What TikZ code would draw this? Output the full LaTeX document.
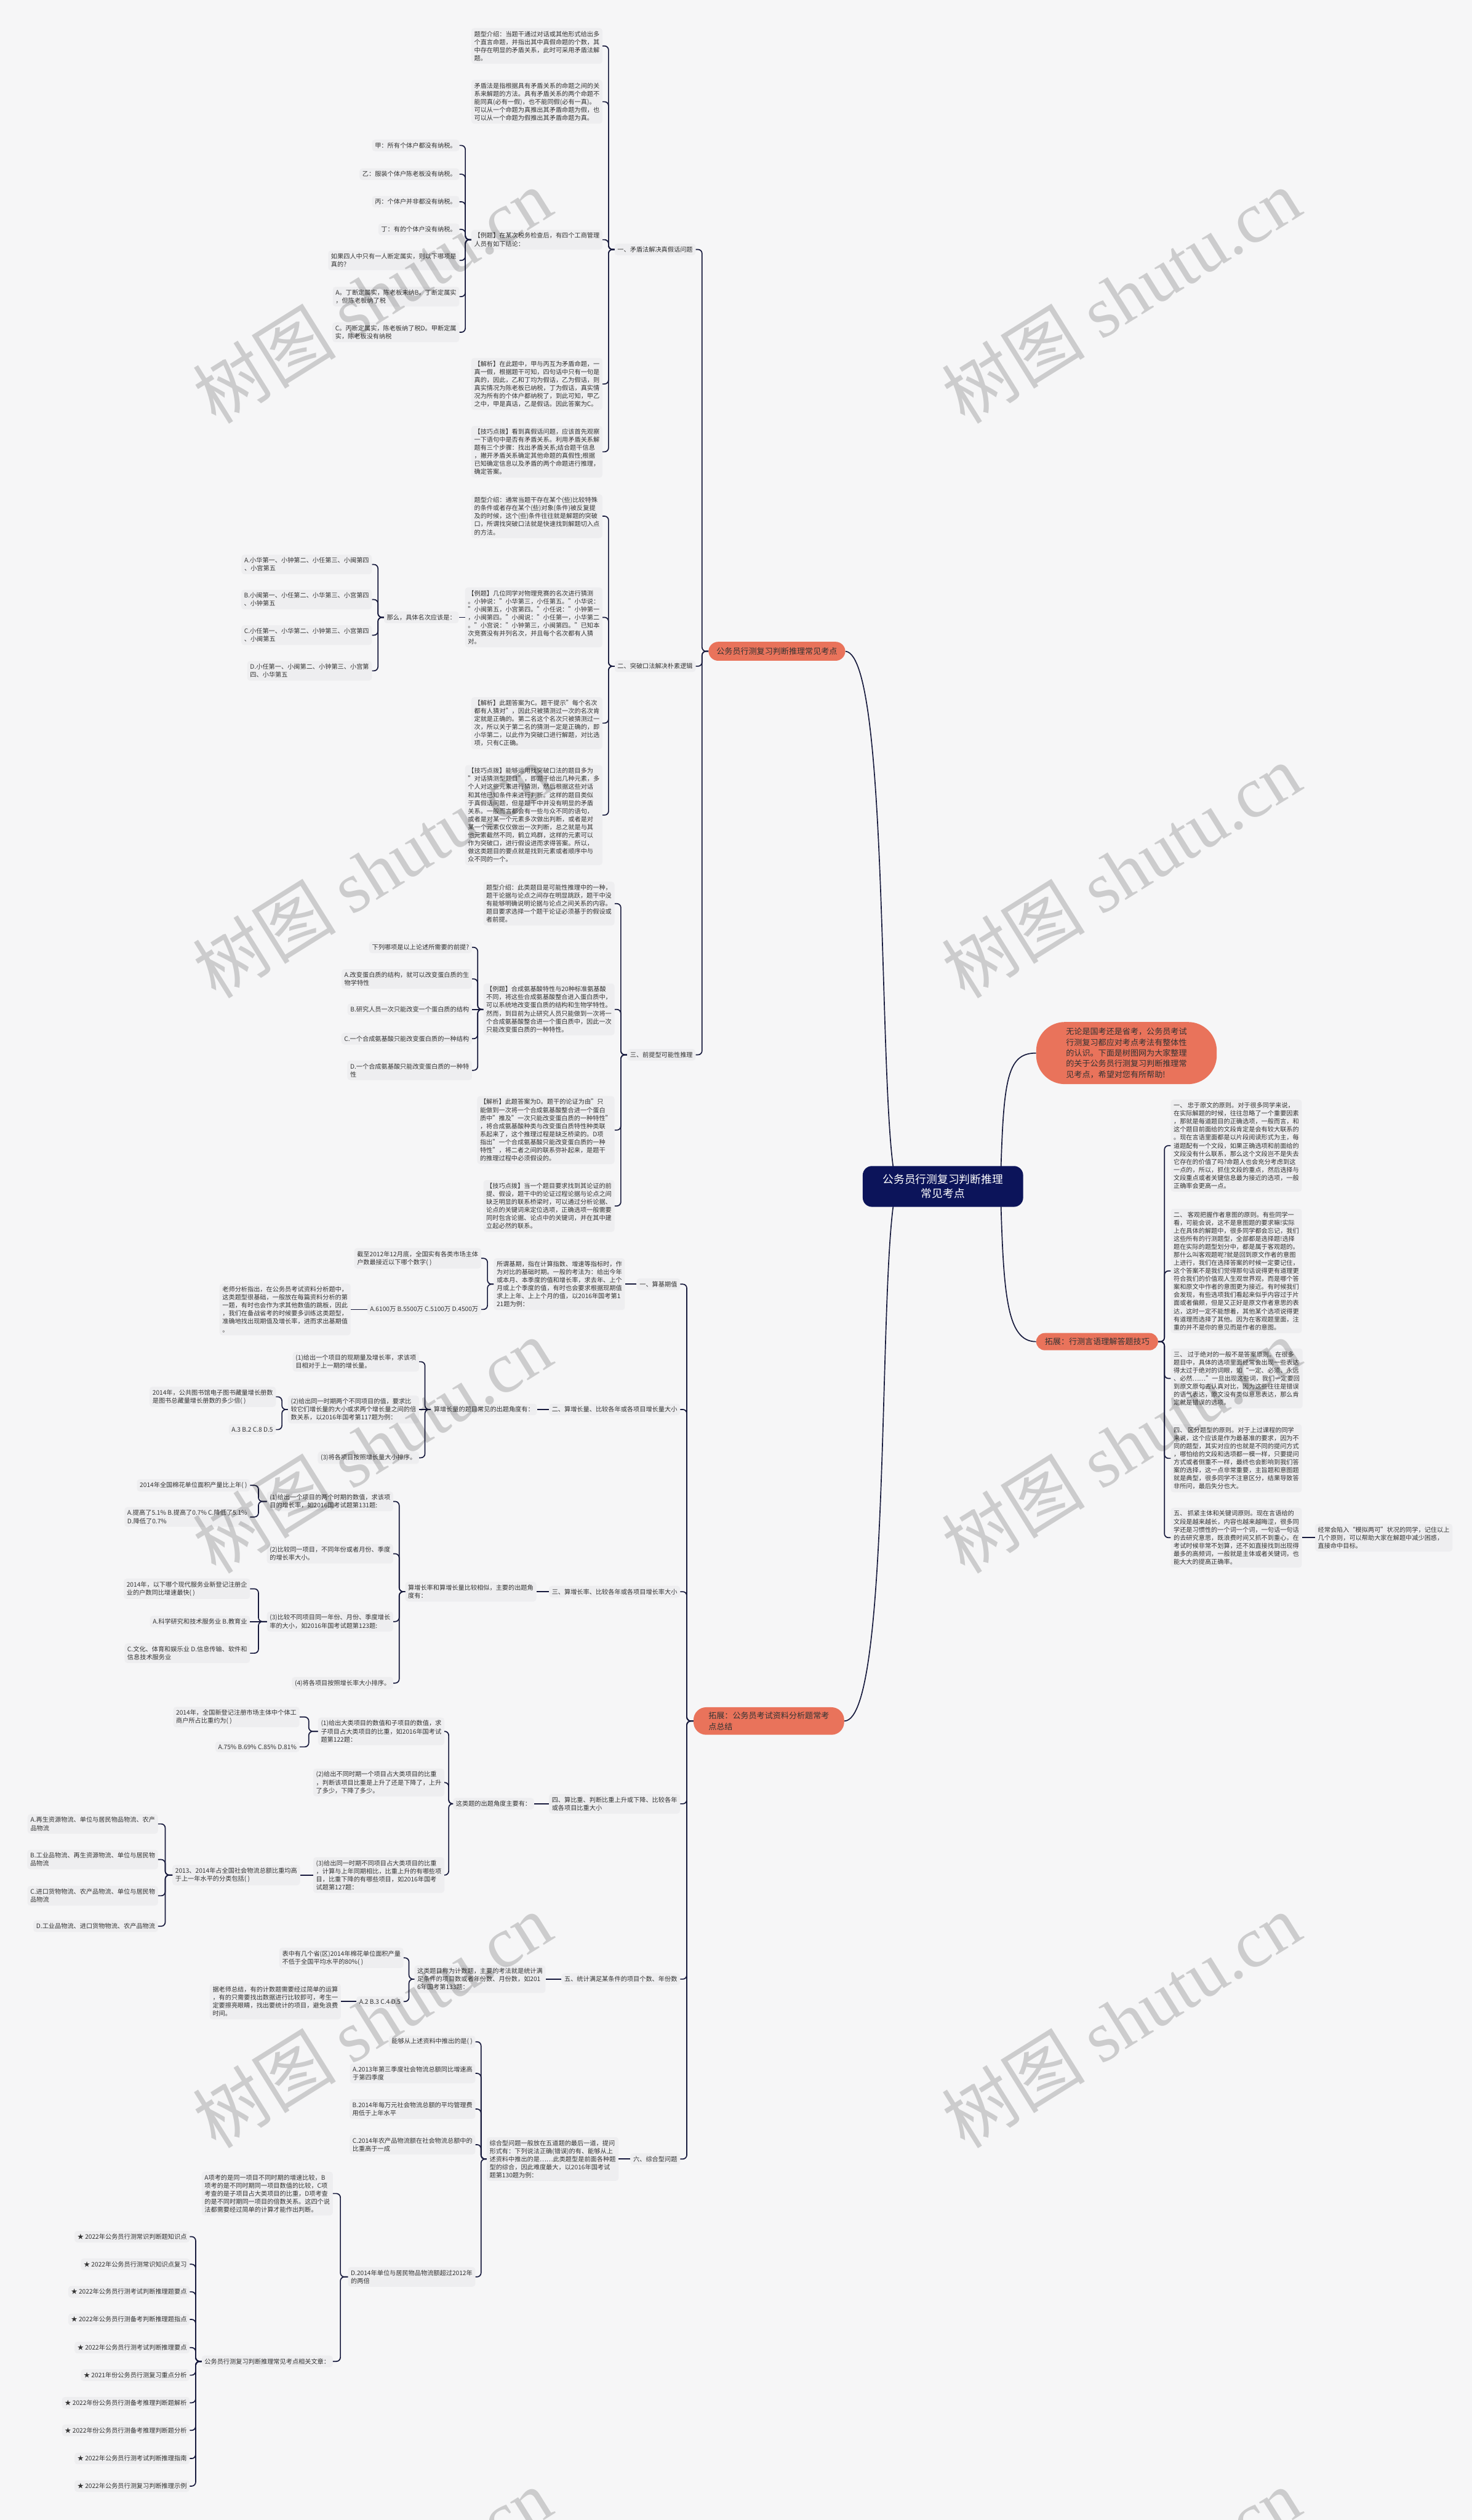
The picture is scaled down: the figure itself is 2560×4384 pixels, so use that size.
\documentclass[tikz,border=0pt]{standalone}
\usepackage{fontspec}
\setmainfont{Noto Sans CJK SC}
\newfontfamily\wmlatin{Liberation Serif}
\usetikzlibrary{calc,backgrounds}
\definecolor{bgc}{HTML}{F6F6F7}
\definecolor{nodefill}{HTML}{EEEEF0}
\definecolor{txt}{HTML}{333333}
\definecolor{linec}{HTML}{171A3D}
\definecolor{orng}{HTML}{E9735B}
\definecolor{navyc}{HTML}{0C145A}
\newcommand\fs{\fontsize{10.9pt}{14pt}\selectfont}
\newcommand\fo{\fontsize{14pt}{19pt}\selectfont}
\newcommand\conL[2]{\draw[conn] (#1.west) -- ($(#1.west)!0.5!(#1.west-|#2.east)$) |- (#2.east);}
\newcommand\conR[2]{\draw[conn] (#1.east) -- ($(#1.east)!0.5!(#1.east-|#2.west)$) |- (#2.west);}
\newcommand\conLs[2]{\draw[conn] (#1.west) -- (#2.east);}
\newcommand\conRs[2]{\draw[conn] (#1.east) -- (#2.west);}
\tikzset{
 box/.style={fill=nodefill, rounded corners=5pt, inner xsep=5pt, inner ysep=5pt, align=left, text=txt, font=\fs},
 lbox/.style={box, anchor=east},
 rbox/.style={box, anchor=west},
 conn/.style={draw=linec, line width=1.8pt, rounded corners=7pt},
 curve/.style={draw=linec, line width=1.8pt},
 pill/.style={fill=orng, text=txt, font=\fo, align=left, anchor=west},
 rootbox/.style={fill=navyc, text=white, align=center, font=\fontsize{19pt}{24pt}\selectfont, rounded corners=16pt, minimum width=279pt, minimum height=71pt},
 wm/.style={rotate=32, text=black, opacity=0.17, font=\fontsize{125pt}{125pt}\selectfont},
}
\begin{document}
\begin{tikzpicture}[x=1pt,y=-1pt]
\begin{pgfonlayer}{background}
\fill[bgc] (0,0) rectangle (2560,4384);
\end{pgfonlayer}
\useasboundingbox (0,0) rectangle (2560,4384);

% ---------- root and main branches ----------
\node[rootbox] (root) at (1640,2064) {公务员行测复习判断推理\\常见考点};
\node[pill, inner xsep=14pt, inner ysep=10pt, rounded corners=17pt] (o1) at (1232,1133) {公务员行测复习判断推理常见考点};
\node[pill, inner xsep=26pt, inner ysep=8pt, rounded corners=22pt] (o2) at (1206,2994) {拓展：公务员考试资料分析题常考\\点总结};
\node[pill, font=\fontsize{14pt}{18.7pt}\selectfont, inner xsep=52pt, inner ysep=10pt, rounded corners=50pt] (blob) at (1802,1832) {无论是国考还是省考，公务员考试\\行测复习都应对考点考法有整体性\\的认识。下面是树图网为大家整理\\的关于公务员行测复习判断推理常\\见考点，希望对您有所帮助!};
\node[pill, inner xsep=15pt, inner ysep=8.5pt, rounded corners=15pt] (tz) at (1802,2334) {拓展：行测言语理解答题技巧};

\begin{pgfonlayer}{background}
\draw[curve] (o1.east) .. controls (1550,1140) and (1525,1950) .. (1560,2064);
\draw[curve] (o2.east) .. controls (1553,2994) and (1525,2180) .. (1560,2064);
\draw[curve] (1740,2064) .. controls (1745,1880) and (1750,1832) .. (blob.west);
\draw[curve] (1740,2064) .. controls (1745,2250) and (1750,2334) .. (tz.west);
\end{pgfonlayer}

% ---------- branch 1 ----------
\node[lbox] (s1) at (1210,434) {一、矛盾法解决真假话问题};
\node[lbox] (s2) at (1210,1159) {二、突破口法解决朴素逻辑};
\node[lbox] (s3) at (1210,1835) {三、前提型可能性推理};

\node[lbox] (a1) at (1048,80) {题型介绍：当题干通过对话或其他形式给出多\\个直言命题，并指出其中真假命题的个数，其\\中存在明显的矛盾关系，此时可采用矛盾法解\\题。};
\node[lbox] (a2) at (1048,177) {矛盾法是指根据具有矛盾关系的命题之间的关\\系来解题的方法。具有矛盾关系的两个命题不\\能同真(必有一假)，也不能同假(必有一真)。\\可以从一个命题为真推出其矛盾命题为假，也\\可以从一个命题为假推出其矛盾命题为真。};
\node[lbox] (a3) at (1048,417) {【例题】在某次税务检查后，有四个工商管理\\人员有如下结论：};
\node[lbox] (a4) at (1048,668) {【解析】在此题中，甲与丙互为矛盾命题，一\\真一假，根据题干可知，四句话中只有一句是\\真的，因此，乙和丁均为假话，乙为假话，则\\真实情况为陈老板已纳税，丁为假话，真实情\\况为所有的个体户都纳税了，到此可知，甲乙\\之中，甲是真话，乙是假话。因此答案为C。};
\node[lbox] (a5) at (1048,786) {【技巧点拨】看到真假话问题，应该首先观察\\一下语句中是否有矛盾关系。利用矛盾关系解\\题有三个步骤：找出矛盾关系;结合题干信息\\，撇开矛盾关系确定其他命题的真假性;根据\\已知确定信息以及矛盾的两个命题进行推理，\\确定答案。};

\node[lbox] (e1) at (799,253) {甲：所有个体户都没有纳税。};
\node[lbox] (e2) at (799,303) {乙：服装个体户陈老板没有纳税。};
\node[lbox] (e3) at (799,351) {丙：个体户并非都没有纳税。};
\node[lbox] (e4) at (799,399) {丁：有的个体户没有纳税。};
\node[lbox] (e5) at (799,453) {如果四人中只有一人断定属实，则以下哪项是\\真的?};
\node[lbox] (e6) at (799,516) {A。丁断定属实，陈老板未纳B。丁断定属实\\，但陈老板纳了税};
\node[lbox] (e7) at (799,578) {C。丙断定属实，陈老板纳了税D。甲断定属\\实，陈老板没有纳税};

\node[lbox] (b1) at (1048,898) {题型介绍：通常当题干存在某个(些)比较特殊\\的条件或者存在某个(些)对象(条件)被反复提\\及的时候，这个(些)条件往往就是解题的突破\\口，所谓找突破口法就是快速找到解题切入点\\的方法。};
\node[lbox] (b2) at (1048,1074) {【例题】几位同学对物理竞赛的名次进行猜测\\。小钟说："小华第三，小任第五。"小华说：\\"小闽第五，小宫第四。"小任说："小钟第一\\，小闽第四。"小闽说："小任第一，小华第二\\。"小宫说："小钟第三，小闽第四。"已知本\\次竞赛没有并列名次，并且每个名次都有人猜\\对。};
\node[lbox] (b3) at (1048,1258) {【解析】此题答案为C。题干提示"每个名次\\都有人猜对"，因此只被猜测过一次的名次肯\\定就是正确的。第二名这个名次只被猜测过一\\次，所以关于第二名的猜测一定是正确的，即\\小华第二，以此作为突破口进行解题，对比选\\项，只有C正确。};
\node[lbox] (b4) at (1048,1418) {【技巧点拨】能够运用找突破口法的题目多为\\"对话猜测型题目"，即题干给出几种元素，多\\个人对这些元素进行猜测，然后根据这些对话\\和其他已知条件来进行判断。这样的题目类似\\于真假话问题，但是题干中并没有明显的矛盾\\关系。一般而言都会有一些与众不同的语句，\\或者是对某一个元素多次做出判断，或者是对\\某一个元素仅仅做出一次判断，总之就是与其\\他元素截然不同，鹤立鸡群，这样的元素可以\\作为突破口，进行假设进而求得答案。所以，\\做这类题目的要点就是找到元素或者顺序中与\\众不同的一个。};

\node[lbox] (f0) at (798,1074) {那么，具体名次应该是：};
\node[lbox] (f1) at (647,982) {A.小华第一、小钟第二、小任第三、小闽第四\\、小宫第五};
\node[lbox] (f2) at (647,1043) {B.小闽第一、小任第二、小华第三、小宫第四\\、小钟第五};
\node[lbox] (f3) at (647,1105) {C.小任第一、小华第二、小钟第三、小宫第四\\、小闽第五};
\node[lbox] (f4) at (647,1167) {D.小任第一、小闽第二、小钟第三、小宫第\\四、小华第五};

\node[lbox] (c1) at (1069,1572) {题型介绍：此类题目是可能性推理中的一种，\\题干论据与论点之间存在明显跳跃，题干中没\\有能够明确说明论据与论点之间关系的内容。\\题目要求选择一个题干论证必须基于的假设或\\者前提。};
\node[lbox] (c2) at (1069,1756) {【例题】合成氨基酸特性与20种标准氨基酸\\不同，将这些合成氨基酸整合进入蛋白质中，\\可以系统地改变蛋白质的结构和生物学特性。\\然而，到目前为止研究人员只能做到一次将一\\个合成氨基酸整合进一个蛋白质中，因此一次\\只能改变蛋白质的一种特性。};
\node[lbox] (c3) at (1069,1966) {【解析】此题答案为D。题干的论证为由"只\\能做到一次将一个合成氨基酸整合进一个蛋白\\质中"推及"一次只能改变蛋白质的一种特性"\\，将合成氨基酸种类与改变蛋白质特性种类联\\系起来了，这个推理过程是缺乏桥梁的。D项\\指出"一个合成氨基酸只能改变蛋白质的一种\\特性"，将二者之间的联系弥补起来，是题干\\的推理过程中必须假设的。};
\node[lbox] (c4) at (1069,2098) {【技巧点拨】当一个题目要求找到其论证的前\\提、假设，题干中的论证过程论据与论点之间\\缺乏明显的联系桥梁时，可以通过分析论据、\\论点的关键词来定位选项，正确选项一般需要\\同时包含论据、论点中的关键词，并在其中建\\立起必然的联系。};

\node[lbox] (g1) at (821,1648) {下列哪项是以上论述所需要的前提?};
\node[lbox] (g2) at (821,1703) {A.改变蛋白质的结构，就可以改变蛋白质的生\\物学特性};
\node[lbox] (g3) at (821,1756) {B.研究人员一次只能改变一个蛋白质的结构};
\node[lbox] (g4) at (821,1807) {C.一个合成氨基酸只能改变蛋白质的一种结构};
\node[lbox] (g5) at (821,1862) {D.一个合成氨基酸只能改变蛋白质的一种特\\性};

% ---------- right branch ----------
\node[rbox] (r1) at (2036,1993) {一、 忠于原文的原则。对于很多同学来说，\\在实际解题的时候，往往忽略了一个重要因素\\，那就是每道题目的正确选项，一般而言，和\\这个题目前面给的文段肯定是会有较大联系的\\。现在言语里面都是以片段阅读形式为主，每\\道题配有一个文段，如果正确选项和前面给的\\文段没有什么联系，那么这个文段岂不是失去\\它存在的价值了吗?命题人也会充分考虑到这\\一点的，所以，抓住文段的重点，然后选择与\\文段重点或者关键信息最为接近的选项，一般\\正确率会更高一点。};
\node[rbox] (r2) at (2036,2211) {二、 客观把握作者意图的原则。有些同学一\\看，可能会说，这不是意图题的要求嘛!实际\\上在具体的解题中，很多同学都会忘记，我们\\这些所有的行测题型，全部都是选择题!选择\\题在实际的题型划分中，都是属于客观题的。\\那什么叫客观题呢?就是回到原文作者的意图\\上进行，我们在选择答案的时候一定要记住，\\这个答案不是我们觉得那句话说得更有道理更\\符合我们的价值观人生观世界观，而是哪个答\\案和原文中作者的意图更为接近。有时候我们\\会发现，有些选项我们看起来似乎内容过于片\\面或者偏颇，但是又正好是原文作者意思的表\\达，这时一定不能想着，其他某个选项说得更\\有道理而选择了其他。因为在客观题里面，注\\重的并不是你的意见而是作者的意图。};
\node[rbox] (r3) at (2036,2398) {三、 过于绝对的一般不是答案原则。在很多\\题目中，具体的选项里面经常会出现一些表达\\得太过于绝对的词眼，如“一定、必须、永远\\、必然……”一旦出现这些词，我们一定要回\\到原文原句去认真对比，因为这些往往是错误\\的语气表达，原文没有类似意思表达，那么肯\\定就是错误的选项。};
\node[rbox] (r4) at (2036,2537) {四、 区分题型的原则。对于上过课程的同学\\来说，这个应该是作为最基准的要求，因为不\\同的题型，其实对应的也就是不同的提问方式\\，哪怕给的文段和选项都一模一样，只要提问\\方式或者侧重不一样，最终也会影响到我们答\\案的选择，这一点非常重要，主旨题和意图题\\就是典型，很多同学不注意区分，结果导致答\\非所问，最后失分也大。};
\node[rbox] (r5) at (2036,2675) {五、 抓紧主体和关键词原则。现在言语给的\\文段是越来越长，内容也越来越晦涩，很多同\\学还是习惯性的一个词一个词，一句话一句话\\的去研究意思，既浪费时间又抓不到重心，在\\考试时候非常不划算，还不如直接找到出现得\\最多的高频词，一般就是主体或者关键词，也\\能大大的提高正确率。};
\node[rbox] (r6) at (2287,2675) {经常会陷入“模拟两可”状况的同学，记住以上\\几个原则，可以帮助大家在解题中减少困惑，\\直接命中目标。};

% ---------- data branch ----------
\node[lbox] (d1) at (1183,2234) {一、算基期值};
\node[lbox] (d2) at (1183,2452) {二、算增长量、比较各年或各项目增长量大小};
\node[lbox] (d3) at (1183,2769) {三、算增长率、比较各年或各项目增长率大小};
\node[lbox] (d4) at (1183,3138) {四、算比重、判断比重上升或下降、比较各年\\或各项目比重大小};
\node[lbox] (d5) at (1183,3443) {五、统计满足某条件的项目个数、年份数};
\node[lbox] (d6) at (1183,3756) {六、综合型问题};

\node[lbox] (h1) at (1087,2234) {所谓基期，指在计算指数、增速等指标时，作\\为对比的基础时期。一般的考法为：给出今年\\或本月、本季度的值和增长率，求去年、上个\\月或上个季度的值，有时也会要求根据现期值\\求上上年、上上个月的值，以2016年国考第1\\21题为例：};
\node[lbox] (h2) at (837,2189) {截至2012年12月底，全国实有各类市场主体\\户数最接近以下哪个数字( )};
\node[lbox] (h3) at (837,2278) {A.6100万 B.5500万 C.5100万 D.4500万};
\node[lbox] (h4) at (610,2278) {老师分析指出，在公务员考试资料分析题中，\\这类题型很基础，一般放在每篇资料分析的第\\一题，有时也会作为求其他数值的跳板，因此\\，我们在备战省考的时候要多训练这类题型，\\准确地找出现期值及增长率，进而求出基期值\\。};

\node[lbox] (h5) at (934,2452) {算增长量的题目常见的出题角度有：};
\node[lbox] (h6) at (729,2369) {(1)给出一个项目的现期量及增长率，求该项\\目相对于上一期的增长量。};
\node[lbox] (h7) at (729,2452) {(2)给出同一时期两个不同项目的值，要求比\\较它们增长量的大小或求两个增长量之间的倍\\数关系，以2016年国考第117题为例：};
\node[lbox] (h8) at (729,2536) {(3)将各项目按照增长量大小排序。};
\node[lbox] (h9) at (480,2430) {2014年，公共图书馆电子图书藏量增长册数\\是图书总藏量增长册数的多少倍( )};
\node[lbox] (h10) at (480,2487) {A.3 B.2 C.8 D.5};

\node[lbox] (i0) at (933,2769) {算增长率和算增长量比较相似，主要的出题角\\度有：};
\node[lbox] (i1) at (684,2612) {(1)给出一个项目的两个时期的数值，求该项\\目的增长率，如2016国考试题第131题:};
\node[lbox] (i2) at (684,2703) {(2)比较同一项目，不同年份或者月份、季度\\的增长率大小。};
\node[lbox] (i3) at (684,2821) {(3)比较不同项目同一年份、月份、季度增长\\率的大小，如2016年国考试题第123题:};
\node[lbox] (i4) at (684,2928) {(4)将各项目按照增长率大小排序。};
\node[lbox] (i5) at (435,2584) {2014年全国棉花单位面积产量比上年( )};
\node[lbox] (i6) at (435,2639) {A.提高了5.1\% B.提高了0.7\% C.降低了5.1\%\\D.降低了0.7\%};
\node[lbox] (i7) at (435,2764) {2014年，以下哪个现代服务业新登记注册企\\业的户数同比增速最快( )};
\node[lbox] (i8) at (435,2821) {A.科学研究和技术服务业 B.教育业};
\node[lbox] (i9) at (435,2876) {C.文化、体育和娱乐业 D.信息传输、软件和\\信息技术服务业};

\node[lbox] (j0) at (929,3138) {这类题的出题角度主要有：};
\node[lbox] (j1) at (773,3012) {(1)给出大类项目的数值和子项目的数值，求\\子项目占大类项目的比重，如2016年国考试\\题第122题：};
\node[lbox] (j2) at (773,3101) {(2)给出不同时期一个项目占大类项目的比重\\，判断该项目比重是上升了还是下降了，上升\\了多少，下降了多少。};
\node[lbox] (j3) at (773,3262) {(3)给出同一时期不同项目占大类项目的比重\\，计算与上年同期相比，比重上升的有哪些项\\目，比重下降的有哪些项目，如2016年国考\\试题第127题：};
\node[lbox] (j4) at (521,2987) {2014年，全国新登记注册市场主体中个体工\\商户所占比重约为( )};
\node[lbox] (j5) at (521,3039) {A.75\% B.69\% C.85\% D.81\%};
\node[lbox] (j6) at (522,3262) {2013、2014年占全国社会物流总额比重均高\\于上一年水平的分类包括( )};
\node[lbox] (j7) at (275,3173) {A.再生资源物流、单位与居民物品物流、农产\\品物流};
\node[lbox] (j8) at (275,3235) {B.工业品物流、再生资源物流、单位与居民物\\品物流};
\node[lbox] (j9) at (275,3298) {C.进口货物物流、农产品物流、单位与居民物\\品物流};
\node[lbox] (j10) at (275,3351) {D.工业品物流、进口货物物流、农产品物流};

\node[lbox] (k0) at (949,3443) {这类题目称为计数题，主要的考法就是统计满\\足条件的项目数或者年份数、月份数，如201\\6年国考第133题：};
\node[lbox] (k1) at (702,3406) {表中有几个省(区)2014年棉花单位面积产量\\不低于全国平均水平的80\%( )};
\node[lbox] (k2) at (702,3482) {A.2 B.3 C.4 D.5};
\node[lbox] (k3) at (593,3482) {据老师总结，有的计数题需要经过简单的运算\\，有的只需要找出数据进行比较即可，考生一\\定要擦亮眼睛，找出要统计的项目，避免浪费\\时间。};

\node[lbox] (m0) at (1076,3756) {综合型问题一般放在五道题的最后一道，提问\\形式有：下列说法正确(错误)的有、能够从上\\述资料中推出的是……此类题型是前面各种题\\型的综合，因此难度最大，以2016年国考试\\题第130题为例：};
\node[lbox] (m1) at (827,3552) {能够从上述资料中推出的是( )};
\node[lbox] (m2) at (827,3607) {A.2013年第三季度社会物流总额同比增速高\\于第四季度};
\node[lbox] (m3) at (827,3669) {B.2014年每万元社会物流总额的平均管理费\\用低于上年水平};
\node[lbox] (m4) at (827,3731) {C.2014年农产品物流额在社会物流总额中的\\比重高于一成};
\node[lbox] (m5) at (827,3961) {D.2014年单位与居民物品物流额超过2012年\\的两倍};
\node[lbox] (m6) at (579,3816) {A项考的是同一项目不同时期的增速比较，B\\项考的是不同时期同一项目数值的比较，C项\\考查的是子项目占大类项目的比重，D项考查\\的是不同时期同一项目的倍数关系。这四个说\\法都需要经过简单的计算才能作出判断。};
\node[lbox] (m7) at (579,4108) {公务员行测复习判断推理常见考点相关文章：};
\node[lbox] (p1) at (330,3891) {★ 2022年公务员行测常识判断题知识点};
\node[lbox] (p2) at (330,3939) {★ 2022年公务员行测常识知识点复习};
\node[lbox] (p3) at (330,3987) {★ 2022年公务员行测考试判断推理题要点};
\node[lbox] (p4) at (330,4035) {★ 2022年公务员行测备考判断推理题指点};
\node[lbox] (p5) at (330,4084) {★ 2022年公务员行测考试判断推理要点};
\node[lbox] (p6) at (330,4132) {★ 2021年份公务员行测复习重点分析};
\node[lbox] (p7) at (330,4180) {★ 2022年份公务员行测备考推理判断题解析};
\node[lbox] (p8) at (330,4228) {★ 2022年份公务员行测备考推理判断题分析};
\node[lbox] (p9) at (330,4277) {★ 2022年公务员行测考试判断推理指南};
\node[lbox] (p10) at (330,4325) {★ 2022年公务员行测复习判断推理示例};

% ---------- connectors ----------
\foreach \c in {s1,s2,s3} {\conL{o1}{\c}}
\foreach \c in {a1,a2,a3,a4,a5} {\conL{s1}{\c}}
\foreach \c in {e1,e2,e3,e4,e5,e6,e7} {\conL{a3}{\c}}
\foreach \c in {b1,b2,b3,b4} {\conL{s2}{\c}}
\conLs{b2}{f0}
\foreach \c in {f1,f2,f3,f4} {\conL{f0}{\c}}
\foreach \c in {c1,c2,c3,c4} {\conL{s3}{\c}}
\foreach \c in {g1,g2,g4,g5} {\conL{c2}{\c}}
\conLs{c2}{g3}

\foreach \c in {r1,r2,r3,r4,r5} {\conR{tz}{\c}}
\conRs{r5}{r6}

\foreach \c in {d1,d2,d3,d4,d5,d6} {\conL{o2}{\c}}
\conLs{d1}{h1}
\foreach \c in {h2,h3} {\conL{h1}{\c}}
\conLs{h3}{h4}
\conLs{d2}{h5}
\foreach \c in {h6,h8} {\conL{h5}{\c}}
\conLs{h5}{h7}
\foreach \c in {h9,h10} {\conL{h7}{\c}}
\conLs{d3}{i0}
\foreach \c in {i1,i2,i3,i4} {\conL{i0}{\c}}
\foreach \c in {i5,i6} {\conL{i1}{\c}}
\foreach \c in {i7,i9} {\conL{i3}{\c}}
\conLs{i3}{i8}
\conLs{d4}{j0}
\foreach \c in {j1,j2,j3} {\conL{j0}{\c}}
\foreach \c in {j4,j5} {\conL{j1}{\c}}
\conLs{j3}{j6}
\foreach \c in {j7,j8,j9,j10} {\conL{j6}{\c}}
\conLs{d5}{k0}
\foreach \c in {k1,k2} {\conL{k0}{\c}}
\conLs{k2}{k3}
\conLs{d6}{m0}
\foreach \c in {m1,m2,m3,m4,m5} {\conL{m0}{\c}}
\foreach \c in {m6,m7} {\conL{m5}{\c}}
\foreach \c in {p1,p2,p3,p4,p5,p6,p7,p8,p9,p10} {\conL{m7}{\c}}

% ---------- watermarks ----------
\foreach \yy in {515,1515,2515,3515,4515} {
  \node[wm] at (647,\yy) {树图 {\wmlatin shutu.cn}};
  \node[wm] at (1950,\yy) {树图 {\wmlatin shutu.cn}};
}
\end{tikzpicture}
\end{document}
